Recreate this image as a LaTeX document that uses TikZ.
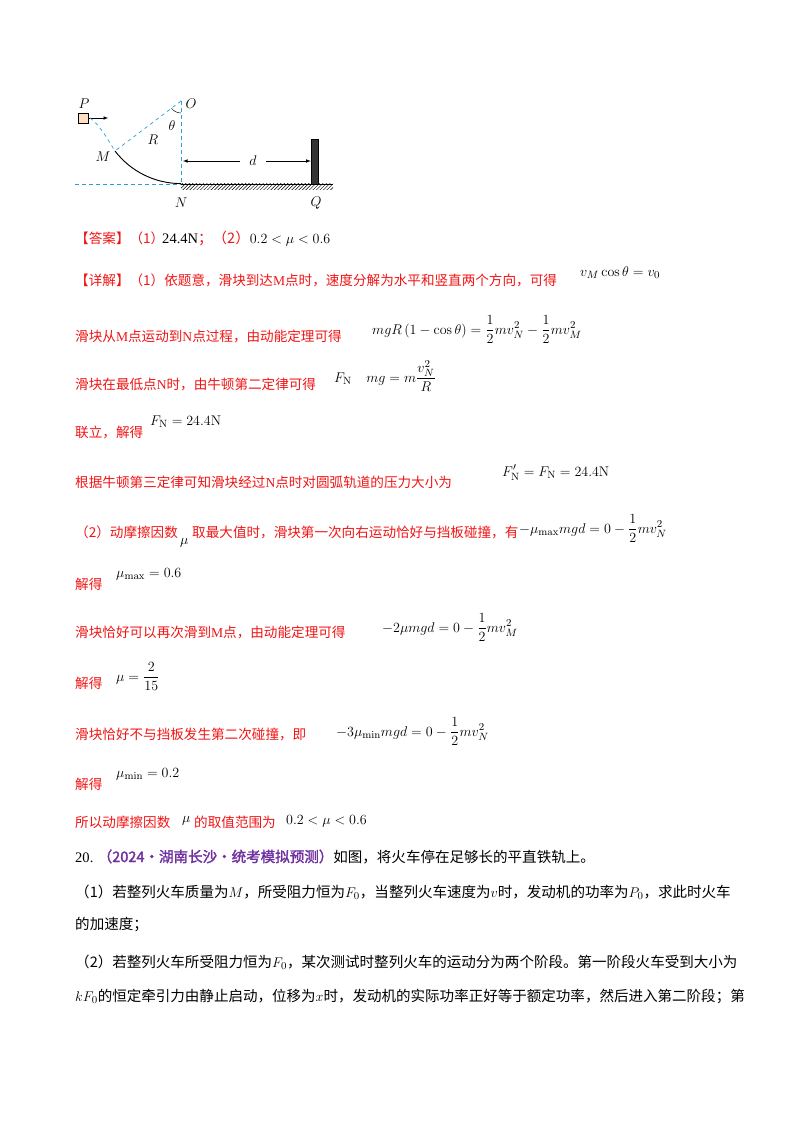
\documentclass[tikz,border=0pt]{standalone}
\usepackage{amsmath}
\usepackage[no-math]{fontspec}
\setmainfont{Noto Sans CJK SC}[AutoFakeBold=2]
\newfontfamily\lat{Liberation Serif}
\usetikzlibrary{patterns}
\definecolor{ansred}{RGB}{240,20,20}
\definecolor{srcpurple}{RGB}{112,48,160}
\definecolor{dashblue}{RGB}{40,160,220}
\tikzset{txt/.style={anchor=base west,inner sep=0,font=\fontsize{12.4}{15}\selectfont},
	ans/.style={txt,text=ansred,font=\fontsize{11.6}{14}\selectfont},
	dsh/.style={dashblue,dashed,semithick},
	lbl/.style={inner sep=0,font=\fontsize{12.5}{14}\selectfont}}
\begin{document}
\begin{tikzpicture}[x=0.03cm,y=-0.03cm]
	\useasboundingbox (0,0) rectangle (800,1132);
	% figure
	\coordinate (O) at (181,101);
	\coordinate (N) at (181,184);
	\coordinate (M) at (115,151);
	\coordinate (Pr) at (90,118);
	\coordinate (G) at (75,184);
	\coordinate (E) at (333,184);
	\node (box) [draw,fill=orange!25,minimum width=0.3cm,minimum height=0.3cm,inner sep=0] at (83,118) {};
	\draw[-latex] (box.east) -- ++(20,0);
	\draw[dsh] (Pr) .. controls (100,125) and (108,140) .. (M);
	\draw[dsh] (O) -- (M);
	\draw[dsh] (O) -- (N);
	\draw[dsh] (G) -- (N);
	\draw[thick] (M) arc[start angle=142.6,end angle=90,radius=83];
	\draw (O) ++(0,12) arc[start angle=90,end angle=142.6,radius=12];
	\draw (N) -- (E);
	\fill[pattern=north east lines] (181,184) rectangle (333,190);
	\node (wall) [draw,fill=black!80,minimum width=0.21cm,minimum height=1.35cm,inner sep=0,anchor=south] at (314.5,184) {};
	\coordinate (dl) at (183,161);
	\node (dtxt) [lbl,inner sep=8pt] at (253,161) {$d$};
	\draw[-latex] (dtxt) -- (dl);
	\draw[-latex] (dtxt) -- (wall.west |- dtxt);
	\node [lbl] at (84,104) {$P$};
	\node [lbl] at (191,104) {$O$};
	\node [lbl] at (103,157) {$M$};
	\node [lbl] at (153,140) {$R$};
	\node [lbl] at (172,126) {$\theta$};
	\node [lbl] at (181,203) {$N$};
	\node [lbl] at (316,203) {$Q$};
	% answer
	\node [ans] at (75,244) {【答案】（1）};
	\node [txt] at (162,244) {{\lat 24.4N}\textcolor{ansred}{；（2）}$0.2<\mu<0.6$};
	\node [ans] at (75,285) {【详解】（1）依题意，滑块到达{\lat M}点时，速度分解为水平和竖直两个方向，可得};
	\node [txt] at (580,276) {$v_M\cos\theta=v_0$};
	\node [ans] at (75,341) {滑块从{\lat M}点运动到{\lat N}点过程，由动能定理可得};
	\node [txt] at (372,334) {$mgR\left(1-\cos\theta\right)=\dfrac{1}{2}mv_N^2-\dfrac{1}{2}mv_M^2$};
	\node [ans] at (75,389) {滑块在最低点{\lat N}时，由牛顿第二定律可得};
	\node [txt] at (334,382) {$F_{\mathrm N}\quad mg=m\dfrac{v_N^2}{R}$};
	\node [ans] at (75,437) {联立，解得};
	\node [txt] at (150,425) {$F_{\mathrm N}=24.4\mathrm{N}$};
	\node [ans] at (75,487) {根据牛顿第三定律可知滑块经过{\lat N}点时对圆弧轨道的压力大小为};
	\node [txt] at (502,476) {$F'_{\mathrm N}=F_{\mathrm N}=24.4\mathrm{N}$};
	\node [ans] at (75,537) {（2）动摩擦因数};
	\node [txt] at (180,544) {$\mu$};
	\node [ans] at (192,537) {取最大值时，滑块第一次向右运动恰好与挡板碰撞，有};
	\node [txt] at (519,533) {$-\mu_{\max}mgd=0-\dfrac{1}{2}mv_N^2$};
	\node [ans] at (75,589) {解得};
	\node [txt] at (116,577) {$\mu_{\max}=0.6$};
	\node [ans] at (75,637) {滑块恰好可以再次滑到{\lat M}点，由动能定理可得};
	\node [txt] at (382,632) {$-2\mu mgd=0-\dfrac{1}{2}mv_M^2$};
	\node [ans] at (75,688) {解得};
	\node [txt] at (116,681) {$\mu=\dfrac{2}{15}$};
	\node [ans] at (75,739) {滑块恰好不与挡板发生第二次碰撞，即};
	\node [txt] at (336,736) {$-3\mu_{\min}mgd=0-\dfrac{1}{2}mv_N^2$};
	\node [ans] at (75,789) {解得};
	\node [txt] at (116,777) {$\mu_{\min}=0.2$};
	\node [ans] at (75,827) {所以动摩擦因数};
	\node [txt] at (182,822) {$\mu$};
	\node [ans] at (194,827) {的取值范围为};
	\node [txt] at (286,824) {$0.2<\mu<0.6$};
	% question 20
	\node [txt] at (75,862) {{\lat 20.} \textcolor{srcpurple}{\bfseries（2024•湖南长沙•统考模拟预测）}如图，将火车停在足够长的平直铁轨上。};
	\node [txt] at (75,897) {（1）若整列火车质量为$M$，所受阻力恒为$F_0$，当整列火车速度为$v$时，发动机的功率为$P_0$，求此时火车};
	\node [txt] at (75,929) {的加速度；};
	\node [txt] at (75,967) {（2）若整列火车所受阻力恒为$F_0$，某次测试时整列火车的运动分为两个阶段。第一阶段火车受到大小为};
	\node [txt] at (75,1001) {$kF_0$的恒定牵引力由静止启动，位移为$x$时，发动机的实际功率正好等于额定功率，然后进入第二阶段；第};
\end{tikzpicture}
\end{document}
